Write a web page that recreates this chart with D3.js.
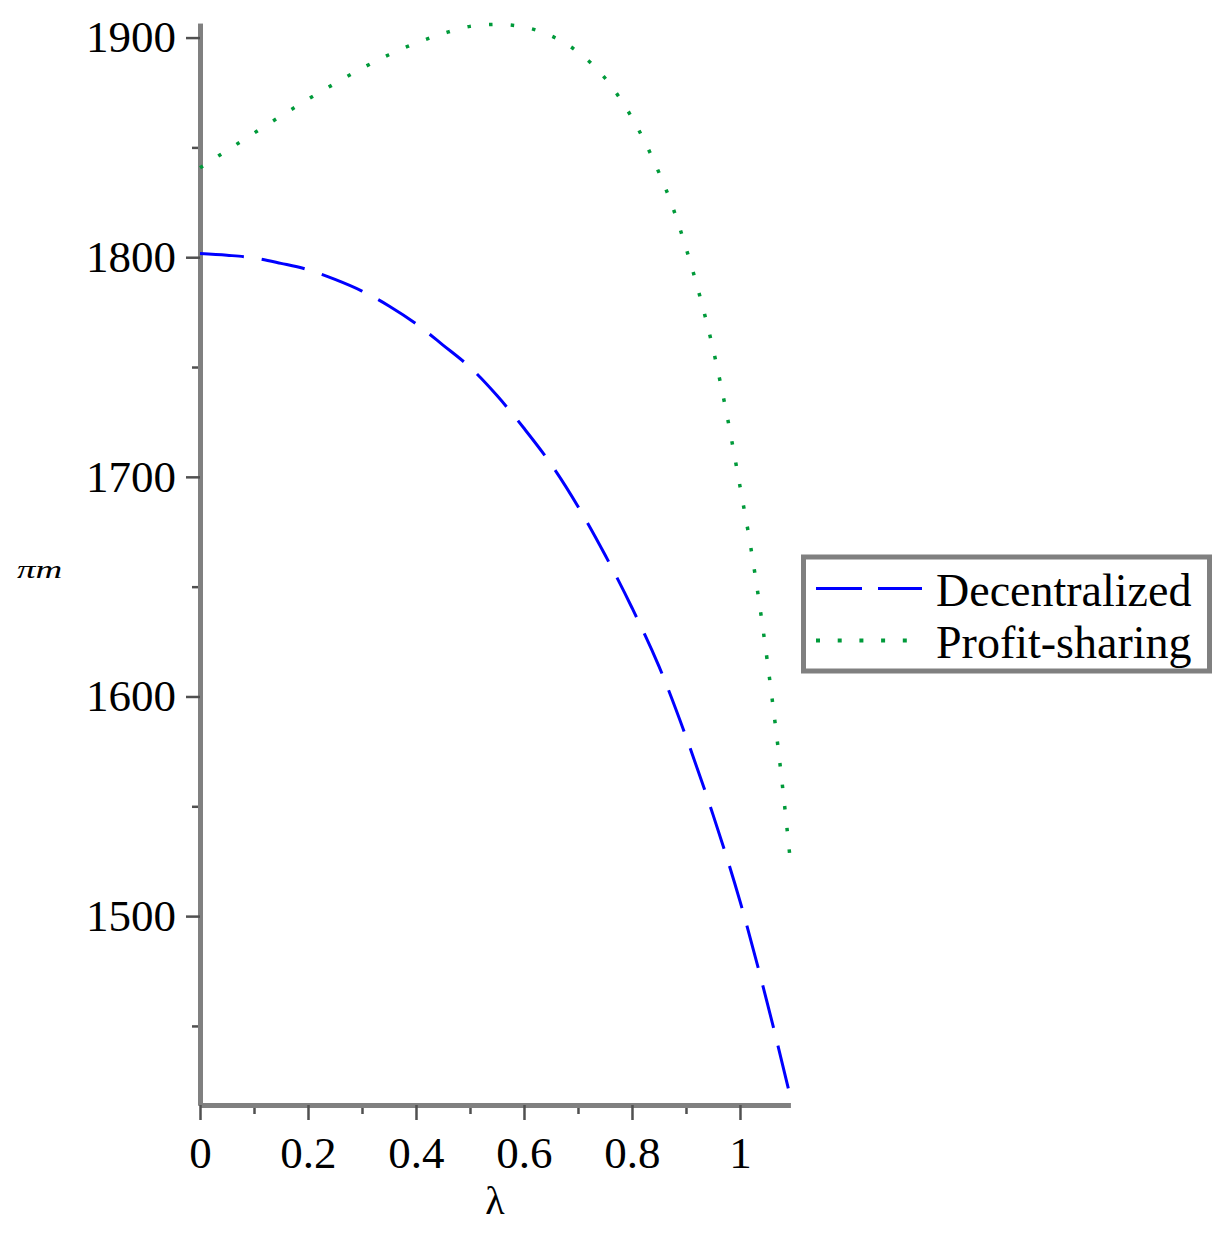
<!DOCTYPE html>
<html>
<head>
<meta charset="utf-8">
<script src="https://cdn.jsdelivr.net/npm/d3@7"></script>
<style>
  body { margin: 0; background: #fff; }
  text { font-family: "Liberation Serif", "Times New Roman", serif; }
</style>
</head>
<body>
<div id="box-chart"></div>
<script>
// values
const lambdaDec = [0, 0.05, 0.1, 0.15, 0.2, 0.25, 0.3, 0.35, 0.4, 0.45, 0.5, 0.55,
  0.6, 0.65, 0.7, 0.75, 0.8, 0.85, 0.9, 0.95, 1.0, 1.05, 1.093];
const decentralized = [1801.7, 1800.9, 1799.7, 1797.2, 1794.3, 1789.9, 1784.6, 1777.8,
  1769.7, 1760.0, 1749.9, 1737.0, 1722.1, 1705.8, 1686.5, 1664.5, 1640.4, 1613.7,
  1581.7, 1546.2, 1506.8, 1461.0, 1418.0];

const lambdaProfit = [0, 0.05, 0.1, 0.15, 0.2, 0.25, 0.3, 0.35, 0.4, 0.45, 0.5, 0.55,
  0.6, 0.65, 0.7, 0.75, 0.775, 0.8, 0.825, 0.85, 0.875, 0.9, 0.925, 0.95, 0.975,
  1.0, 1.02, 1.04, 1.06, 1.08, 1.093];
const profitSharing = [1840.7, 1848.6, 1856.5, 1864.3, 1871.9, 1879.1, 1886.0, 1892.2,
  1897.5, 1901.8, 1905.1, 1906.0, 1904.8, 1900.8, 1893.4, 1881.6, 1873.3, 1863.5,
  1851.9, 1838.5, 1823.1, 1804.2, 1782.9, 1758.4, 1729.2, 1695.7, 1667.9, 1635.3,
  1598.0, 1556.3, 1525.8];

const seriesNames = ['Decentralized', 'Profit-sharing'];
const xMajorTicks = [0, 0.2, 0.4, 0.6, 0.8, 1];
const xTickLabels = ['0', '0.2', '0.4', '0.6', '0.8', '1'];
const xMinorTicks = [0.1, 0.3, 0.5, 0.7, 0.9];
const yMajorTicks = [1500, 1600, 1700, 1800, 1900];
const yMinorTicks = [1450, 1550, 1650, 1750, 1850];

const width = 1232;
const height = 1245;

const svg = d3.select('#box-chart').append('svg')
  .attr('width', width)
  .attr('height', height)

const x_scale = d3.scaleLinear()
  .domain([0, 1.093])
  .range([200, 790.2])

const y_scale = d3.scaleLinear()
  .domain([1414, 1906.5])
  .range([1105, 23.3])

// axes: grey thick domain, darker ticks
const styleAxis = (g) => {
  g.select('.domain').attr('stroke', '#808080').attr('stroke-width', 5)
  g.selectAll('.tick line').attr('stroke', '#505050').attr('stroke-width', 2.5)
  g.selectAll('.tick text').attr('fill', '#000').style('font-size', '45px')
    .style('font-family', '"Liberation Serif", serif')
}

svg.append('g')
  .attr('transform', 'translate(200,0)')
  .call(d3.axisLeft(y_scale).tickValues(yMinorTicks).tickSize(8).tickSizeOuter(0).tickFormat(''))
  .call(styleAxis)

svg.append('g')
  .attr('transform', 'translate(200,0)')
  .call(d3.axisLeft(y_scale).tickValues(yMajorTicks).tickSize(14).tickSizeOuter(0)
    .tickPadding(10).tickFormat(d3.format('d')))
  .call(styleAxis)

svg.append('g')
  .attr('transform', 'translate(0,1105)')
  .call(d3.axisBottom(x_scale).tickValues(xMinorTicks).tickSize(9).tickSizeOuter(0).tickFormat(''))
  .call(styleAxis)

svg.append('g')
  .attr('transform', 'translate(0,1105)')
  .call(d3.axisBottom(x_scale).tickValues(xMajorTicks).tickSize(15).tickSizeOuter(0)
    .tickPadding(16).tickFormat((d, i) => xTickLabels[i]))
  .call(styleAxis)

// axis titles
svg.append('text')
  .attr('x', 495)
  .attr('y', 1214)
  .attr('text-anchor', 'middle')
  .style('font-size', '40px')
  .text('λ')

svg.append('text')
  .attr('x', 17)
  .attr('y', 578)
  .attr('transform', 'translate(17,578) scale(1,0.7) translate(-17,-578)')
  .style('font-size', '37px')
  .style('font-style', 'italic')
  .text('πm')

// curves
const line = d3.line()
  .x((d) => x_scale(d[0]))
  .y((d) => y_scale(d[1]))
  .curve(d3.curveMonotoneX)

svg.append('path')
  .datum(d3.zip(lambdaDec, decentralized))
  .attr('fill', 'none')
  .attr('stroke', '#0000ff')
  .attr('stroke-width', 3)
  .attr('stroke-dasharray', '44,18')
  .attr('d', line)

svg.append('path')
  .datum(d3.zip(lambdaProfit, profitSharing))
  .attr('fill', 'none')
  .attr('stroke', '#009a3a')
  .attr('stroke-width', 3.5)
  .attr('stroke-dasharray', '3.5,18.2')
  .attr('d', line)

// legend
const legend = svg.append('g')

legend.append('rect')
  .attr('x', 803.5)
  .attr('y', 557)
  .attr('width', 406)
  .attr('height', 114)
  .attr('fill', '#fff')
  .attr('stroke', '#808080')
  .attr('stroke-width', 5)

const legendStyles = [
  { color: '#0000ff', dash: '46,16', w: 3 },
  { color: '#009a3a', dash: '4,17.7', w: 4 }
]

seriesNames.forEach((name, i) => {
  const yy = 588.5 + i * 52
  legend.append('line')
    .attr('x1', 816)
    .attr('x2', 922)
    .attr('y1', yy)
    .attr('y2', yy)
    .attr('stroke', legendStyles[i].color)
    .attr('stroke-width', legendStyles[i].w)
    .attr('stroke-dasharray', legendStyles[i].dash)
  legend.append('text')
    .attr('x', 936)
    .attr('y', yy + 17)
    .style('font-size', '46px')
    .text(name)
})
</script>
</body>
</html>
